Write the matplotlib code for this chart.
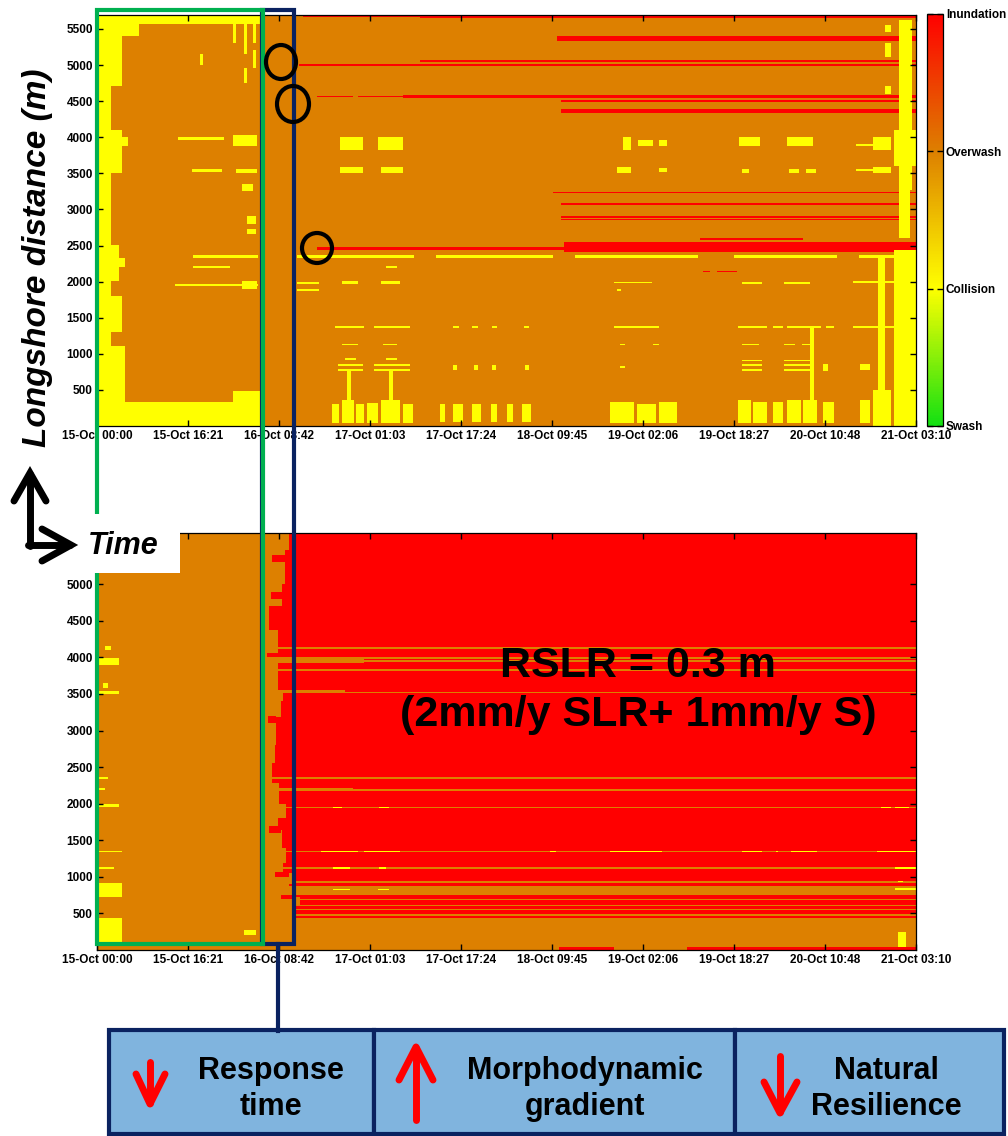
import numpy as np
import matplotlib
matplotlib.use("Agg")
import matplotlib.pyplot as plt
from matplotlib.colors import LinearSegmentedColormap
from matplotlib.patches import Rectangle, Ellipse

plt.rcParams['font.family'] = ['Liberation Sans', 'DejaVu Sans']
plt.rcParams['font.weight'] = 'bold'

# time in hours after 15-Oct 00:00, alongshore distance in m
t_end = 147.17
d_end = 5700
tick_hours = [0, 16.35, 32.7, 49.05, 65.4, 81.75, 98.1, 114.45, 130.8, 147.17]
tick_labels = ['15-Oct 00:00', '15-Oct 16:21', '16-Oct 08:42', '17-Oct 01:03',
               '17-Oct 17:24', '18-Oct 09:45', '19-Oct 02:06', '19-Oct 18:27',
               '20-Oct 10:48', '21-Oct 03:10']
dist_ticks = [500, 1000, 1500, 2000, 2500, 3000, 3500, 4000, 4500, 5000, 5500]

# storm impact regimes (Sallenger scale)
regimes = ['Swash', 'Collision', 'Overwash', 'Inundation']
SWASH, COLLISION, OVERWASH, INUNDATION = 0, 1, 2, 3

# ---- present-day run: (t0, t1, d0, d1) patches on an overwash background
top_red = [
    (37.0, 58.0, 5655, 5685), (58.0, t_end, 5635, 5700),
    (82.8, t_end, 5330, 5400),
    (58.0, t_end, 5045, 5070),
    (36.2, t_end, 4985, 5010),
    (39.6, 46.0, 4550, 4570), (47.0, 55.0, 4550, 4570), (55.0, t_end, 4545, 4580),
    (83.6, t_end, 4485, 4510),
    (83.6, t_end, 4330, 4390),
    (82.0, t_end, 3215, 3240),
    (83.6, t_end, 3060, 3085),
    (83.6, t_end, 2850, 2870), (83.6, t_end, 2885, 2900),
    (39.6, 56.0, 2445, 2470), (56.0, 84.0, 2435, 2480), (84.0, t_end, 2410, 2540),
    (108.5, 127.0, 2580, 2600),
    (109.0, 110.3, 2130, 2145), (111.5, 115.0, 2130, 2145),
]

top_yellow = [
    # collision along the whole beach at the start of the record
    (0.0, 2.5, 0, 5700), (0.0, 4.5, 4700, 5700), (0.0, 7.5, 5400, 5700),
    (0.0, 29.5, 5560, 5700), (0.0, 29.5, 0, 330), (0.0, 5.0, 330, 1100),
    (2.5, 4.5, 1300, 1800), (2.5, 4.0, 2000, 2500), (2.5, 4.5, 3500, 4100),
    (2.5, 5.5, 3870, 4000), (2.5, 5.0, 2200, 2330), (24.5, 29.5, 330, 480),
    # first-day low tides
    (14.6, 22.7, 3950, 4000), (17.0, 22.5, 3520, 3560), (18.5, 19.0, 5000, 5150),
    (24.5, 25.0, 5300, 5560), (26.5, 27.0, 5150, 5560), (28.0, 28.6, 5300, 5560),
    (28.0, 28.6, 4950, 5200), (26.5, 27.0, 4750, 4950),
    (24.5, 28.8, 3870, 4020), (25.0, 28.8, 3500, 3560), (26.0, 28.0, 3250, 3350),
    (27.0, 28.5, 2650, 2720), (27.0, 28.5, 2800, 2900), (26.0, 28.8, 1900, 2000),
    (17.3, 29.0, 2330, 2355), (17.3, 24.0, 2190, 2210), (14.0, 29.0, 1940, 1960),
    # narrow collision line near 2340 m
    (36.0, 57.0, 2330, 2355), (61.0, 82.0, 2330, 2355), (86.0, 92.0, 2330, 2355),
    (90.5, 108.0, 2330, 2355), (114.5, 133.0, 2330, 2355), (137.0, t_end, 2330, 2355),
    # 17-Oct low tides
    (43.7, 47.7, 3820, 4000), (50.6, 54.9, 3820, 4000),
    (43.7, 47.7, 3500, 3590), (51.0, 54.9, 3500, 3590),
    (52.0, 54.0, 2190, 2210),
    (44.0, 47.0, 1970, 1995), (51.0, 54.6, 1965, 1995),
    (36.0, 40.0, 1970, 1990), (36.0, 40.0, 1870, 1890),
    (42.8, 47.9, 1360, 1385), (49.7, 56.3, 1360, 1385),
    (44.0, 47.0, 1125, 1145), (51.5, 54.0, 1125, 1145),
    (44.5, 46.5, 910, 935), (43.2, 47.7, 830, 860), (43.2, 47.7, 760, 790),
    (52.0, 54.0, 910, 935), (49.7, 56.3, 830, 860), (49.7, 56.3, 760, 790),
    (45.0, 45.8, 360, 760), (52.5, 53.3, 360, 760),
    (42.3, 43.6, 40, 300), (44.0, 46.2, 40, 360), (46.6, 47.9, 40, 300),
    (48.5, 50.5, 40, 320), (51.0, 54.5, 40, 360), (55.0, 56.8, 40, 300),
    # 18-Oct short low-tide windows
    (61.8, 62.6, 60, 300), (64.0, 65.8, 60, 300), (67.6, 68.9, 60, 300),
    (70.7, 72.0, 60, 300), (73.8, 74.8, 60, 300), (76.6, 77.9, 60, 300),
    (64.0, 65.0, 1360, 1380), (67.6, 68.5, 1360, 1380), (71.0, 72.0, 1360, 1380),
    (76.7, 77.8, 1360, 1380),
    (64.0, 64.8, 780, 840), (67.8, 68.5, 780, 840), (71.0, 71.8, 780, 840),
    (77.0, 77.8, 780, 840),
    # 19-Oct low tide
    (92.3, 96.5, 40, 330), (97.0, 100.5, 40, 300), (101.0, 104.3, 40, 330),
    (94.6, 95.9, 3820, 4000), (97.3, 100.0, 3880, 3960), (101.0, 102.5, 3880, 3960),
    (93.5, 95.9, 3500, 3580), (101.0, 102.5, 3520, 3570),
    (93.0, 99.7, 1975, 1990), (93.5, 94.2, 1870, 1890),
    (93.0, 101.0, 1360, 1380),
    (94.0, 95.0, 1125, 1145), (100.0, 101.0, 1125, 1145),
    (94.0, 95.0, 800, 830),
    # 20-Oct low tides
    (115.6, 119.2, 3880, 4000), (124.1, 128.7, 3880, 4000),
    (116.0, 117.3, 3500, 3560), (124.4, 126.3, 3500, 3560), (127.5, 129.2, 3500, 3560),
    (116.0, 119.6, 1970, 1990), (123.5, 128.2, 1970, 1990),
    (115.3, 120.5, 1360, 1385), (121.4, 123.2, 1360, 1385),
    (124.1, 130.3, 1360, 1385), (131.0, 132.4, 1360, 1385),
    (116.0, 119.0, 1120, 1145), (123.5, 125.6, 1120, 1145), (126.8, 128.6, 1120, 1145),
    (116.0, 119.6, 900, 925), (116.0, 119.6, 830, 860), (116.0, 119.6, 760, 790),
    (123.5, 128.2, 900, 925), (123.5, 128.2, 830, 860), (123.5, 128.2, 760, 790),
    (130.5, 131.5, 760, 860),
    (115.3, 117.6, 40, 360), (118.0, 120.5, 40, 330), (121.4, 123.2, 40, 330),
    (124.1, 126.6, 40, 360), (127.0, 129.5, 40, 360),
    (130.6, 132.4, 40, 330), (128.3, 129.0, 360, 1360),
    # falling surge on 21-Oct
    (137.3, 139.0, 40, 360), (137.3, 139.0, 780, 860), (137.3, 139.0, 1360, 1385),
    (140.5, 141.8, 0, 2340), (139.6, 142.7, 0, 500),
    (139.6, 142.7, 3820, 4000), (136.5, 142.7, 3880, 3905),
    (139.6, 142.7, 3500, 3590), (136.5, 142.7, 3530, 3550),
    (141.8, 142.7, 5100, 5300), (141.8, 142.7, 5450, 5550), (141.8, 142.7, 4600, 4700),
    (136.0, t_end, 1975, 1995), (136.0, t_end, 1365, 1385),
    (144.2, 146.6, 3270, 5620), (143.2, t_end, 0, 2440),
    (144.2, 146.2, 2600, 3270), (143.2, t_end, 3600, 4100),
]

# ---- RSLR = 0.3 m run: inundation front reached at t_front for each stretch
bot_front = [
    (440, 600, 35.8), (600, 730, 36.5), (730, 900, 34.5), (900, 1050, 35.2),
    (1050, 1190, 33.5), (1190, 1400, 34.0), (1400, 1640, 33.2), (1640, 1800, 32.5),
    (1800, 2000, 34.0), (2000, 2280, 32.8), (2280, 2550, 31.6), (2550, 2800, 31.9),
    (2800, 3190, 32.2), (3190, 3400, 33.0), (3400, 3560, 33.6), (3560, 3900, 32.6),
    (3900, 4380, 32.4), (4380, 4700, 31.0), (4700, 5000, 33.2), (5000, 5470, 33.8),
    (5470, 5700, 34.5),
]

bot_red_spots = [
    (31.5, 33.8, 5300, 5400), (31.2, 33.2, 4800, 4900), (30.6, 32.4, 4000, 4060),
    (30.8, 32.2, 3100, 3200), (31.0, 33.0, 1600, 1700), (32.0, 34.5, 1000, 1060),
    (33.0, 35.0, 700, 760),
]

bot_orange = [
    (0, t_end, 4110, 4145), (0, t_end, 3975, 3995), (0, t_end, 3935, 3955),
    (0, t_end, 3820, 3840), (0, t_end, 3510, 3530), (0, 48.0, 3925, 4000),
    (0, 44.5, 3520, 3560), (0, t_end, 2345, 2365), (0, t_end, 2180, 2200),
    (0, 46.0, 2195, 2215), (0, t_end, 1945, 1965), (0, t_end, 1335, 1355),
    (0, t_end, 1110, 1130), (0, t_end, 925, 945), (0, t_end, 750, 870),
    (0, t_end, 675, 695), (0, t_end, 605, 625), (0, t_end, 540, 560),
    (0, t_end, 470, 490), (0, t_end, 0, 440),
]

bot_red_toe = [(83.0, 93.0, 0, 40), (106.0, t_end, 0, 40)]

bot_yellow = [
    (0.0, 4.5, 80, 440), (0.0, 4.5, 730, 910), (0.0, 3.0, 1110, 1140),
    (0.0, 4.5, 1335, 1360), (0.0, 4.0, 1950, 1990), (0.0, 1.5, 2190, 2215),
    (0.0, 2.0, 2345, 2365), (0.0, 4.0, 3500, 3540), (1.0, 2.0, 3580, 3650),
    (0.0, 4.0, 3900, 3990), (1.5, 2.5, 4100, 4150), (26.5, 28.5, 200, 280),
    (42.6, 44.0, 1945, 1965), (50.7, 52.4, 1945, 1965),
    (40.2, 47.0, 1335, 1355), (48.0, 54.6, 1335, 1355),
    (81.5, 82.5, 1335, 1355), (98.5, 99.5, 1335, 1355),
    (42.6, 45.5, 1110, 1130), (50.7, 52.0, 1110, 1130),
    (42.6, 45.5, 815, 845), (50.5, 52.5, 815, 845),
    (92.3, 101.6, 1335, 1355), (116.0, 119.6, 1335, 1355), (122.0, 122.6, 1335, 1355),
    (124.7, 129.5, 1335, 1355), (140.3, t_end, 1335, 1355),
    (141.0, 142.7, 1945, 1965), (143.6, 146.0, 1945, 1965),
    (143.6, t_end, 1110, 1130), (144.0, 145.0, 930, 945), (143.6, t_end, 815, 850),
    (144.0, 145.4, 40, 240),
]

# ---- grid and painting
dt, dd = 0.25, 10


def paint(grid, rects, value):
    for t0, t1, d0, d1 in rects:
        j0 = int(round(t0 / dt))
        j1 = max(int(round(t1 / dt)), j0 + 1)
        i0 = int(round(d0 / dd))
        i1 = max(int(round(d1 / dd)), i0 + 1)
        grid[i0:i1, j0:j1] = value


nt = int(round(t_end / dt))
nd = int(round(d_end / dd))

present = np.full((nd, nt), OVERWASH, dtype=float)
paint(present, top_red, INUNDATION)
paint(present, top_yellow, COLLISION)

rslr = np.full((nd, nt), OVERWASH, dtype=float)
for d0, d1, tf in bot_front:
    rslr[int(round(d0 / dd)):int(round(d1 / dd)), int(round(tf / dt)):] = INUNDATION
paint(rslr, bot_red_spots, INUNDATION)
paint(rslr, bot_orange, OVERWASH)
paint(rslr, bot_red_toe, INUNDATION)
paint(rslr, bot_yellow, COLLISION)

cmap = LinearSegmentedColormap.from_list(
    'impact', [(0, '#12e012'), (1 / 3, '#ffff00'), (2 / 3, '#dd8000'), (1, '#ff0000')])

W, H = 1008, 1136
fig = plt.figure(figsize=(W / 100, H / 100), dpi=100)


def px_axes(x0, y0, x1, y1):
    return fig.add_axes([x0 / W, 1 - y1 / H, (x1 - x0) / W, (y1 - y0) / H])


def style(ax, yticks):
    ax.set_xlim(0, t_end)
    ax.set_ylim(0, d_end)
    ax.set_xticks(tick_hours)
    ax.set_xticklabels(tick_labels)
    ax.set_yticks(yticks)
    ax.tick_params(direction='in', top=True, right=True, length=4, width=1,
                   labelsize=8.5, pad=3)
    for s in ax.spines.values():
        s.set_linewidth(0.9)


ax_top = px_axes(97, 14.5, 916, 426)
im = ax_top.imshow(present, origin='lower', extent=[0, t_end, 0, d_end], aspect='auto',
                   cmap=cmap, vmin=0, vmax=3, interpolation='nearest')
style(ax_top, dist_ticks)

ax_bot = px_axes(97, 533, 916, 950)
ax_bot.imshow(rslr, origin='lower', extent=[0, t_end, 0, d_end], aspect='auto',
              cmap=cmap, vmin=0, vmax=3, interpolation='nearest')
style(ax_bot, dist_ticks[:-1])
ax_bot.text(0.661, 0.623, 'RSLR = 0.3 m\n(2mm/y SLR+ 1mm/y S)', transform=ax_bot.transAxes,
            ha='center', va='center', fontsize=31, fontweight='bold', linespacing=1.3)

cax = px_axes(927, 14, 943, 426)
cb = fig.colorbar(im, cax=cax, ticks=[0, 1, 2, 3])
cb.ax.set_yticklabels(regimes)
cb.ax.tick_params(direction='in', left=True, right=True, length=4, width=1,
                  labelsize=8.5, pad=2)
cb.outline.set_linewidth(0.9)

# annotation layer in pixel units
ov = fig.add_axes([0, 0, 1, 1], zorder=10)
ov.set_xlim(0, W)
ov.set_ylim(H, 0)
ov.axis('off')
ov.patch.set_alpha(0)

navy = '#0a2260'
green = '#00b050'
ov.add_patch(Rectangle((262, 10), 32, 934, fill=False, ec=navy, lw=3))
ov.plot([278, 278], [944, 1031], color=navy, lw=3)
ov.add_patch(Rectangle((96.5, 10), 166, 934, fill=False, ec=green, lw=3))

for cx, cy, w, h in [(281, 62, 30, 34), (293, 104, 32, 36), (317, 248, 30, 30)]:
    ov.add_patch(Ellipse((cx, cy), w, h, fill=False, ec='black', lw=3))

ov.add_patch(Rectangle((0, 514), 180, 59, fc='white', ec='none'))

ov.text(38, 258, 'Longshore distance (m)', rotation=90, ha='center', va='center',
        fontsize=24, fontweight='bold', fontstyle='italic')

# axis-direction arrows
kw = dict(color='black', lw=5, solid_capstyle='round', solid_joinstyle='miter')
ov.plot([30, 30], [546, 474], **kw)
ov.plot([14, 30, 46], [501, 473, 501], **kw)
ov.plot([28, 70], [545, 545], **kw)
ov.plot([42, 71, 42], [529, 545, 561], **kw)
ov.text(88, 546, 'Time', ha='left', va='center', fontsize=22,
        fontweight='bold', fontstyle='italic')

# summary boxes
box_fill = '#80b4de'
boxes = [(109, 374, 'Response\ntime', 271), (374, 735, 'Morphodynamic\ngradient', 585),
         (735, 1004, 'Natural\nResilience', 886)]
for x0, x1, label, xc in boxes:
    ov.add_patch(Rectangle((x0, 1030), x1 - x0, 104, fc=box_fill, ec=navy, lw=3))
    ov.text(xc, 1089, label, ha='center', va='center', fontsize=22,
            fontweight='bold', linespacing=1.25)

rk = dict(color='red', lw=5, solid_capstyle='round')
ov.plot([150, 150], [1062, 1103], **rk)
ov.plot([136, 150, 165], [1074, 1104, 1074], **rk)
ov.plot([416, 416], [1120, 1048], **rk)
ov.plot([399, 416, 433], [1080, 1047, 1080], **rk)
ov.plot([780, 780], [1056, 1112], **rk)
ov.plot([764, 780, 797], [1082, 1113, 1082], **rk)

fig.savefig('out.png', dpi=100)
